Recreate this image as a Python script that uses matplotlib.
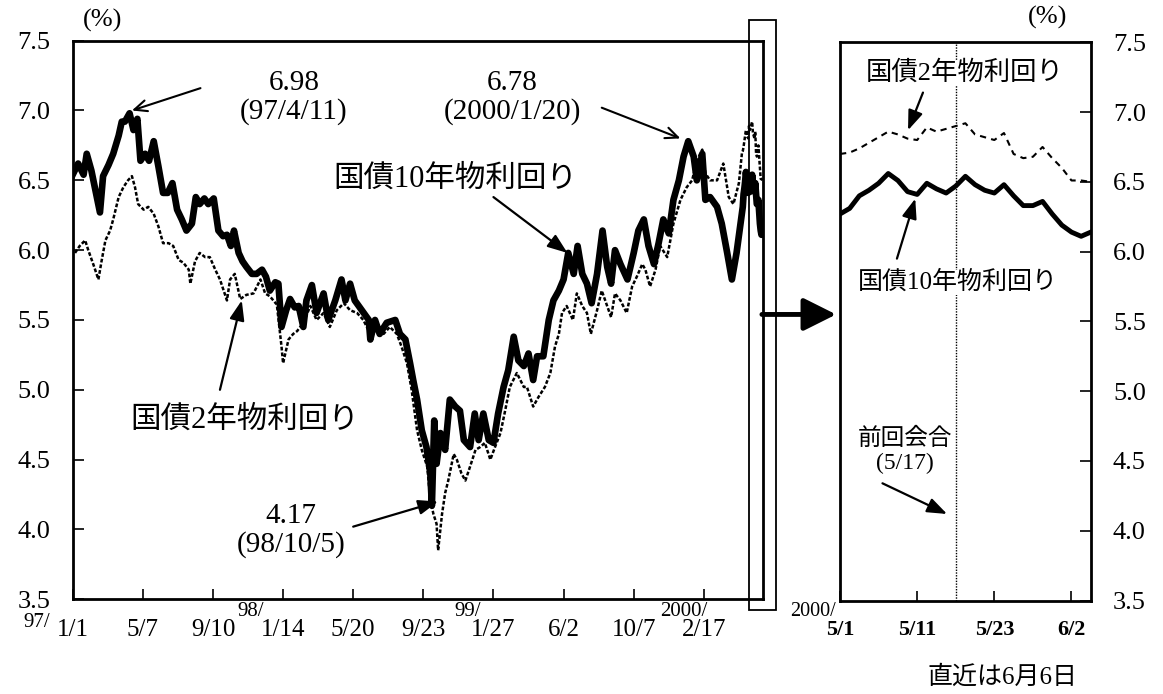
import numpy as np
import matplotlib.pyplot as plt
from matplotlib.patches import Rectangle

plt.rcParams['font.family'] = ['Liberation Serif', 'Noto Sans CJK JP']

# ---------------------------------------------------------
# Data (business-day index from 97/1/1, yield in %)
# ---------------------------------------------------------
t10 = [0, 7, 14, 18, 24, 31, 35, 39, 46, 52, 59, 63, 67, 73, 78, 83, 87, 93, 98, 104,
       110, 116, 122, 128, 134, 140, 146, 153, 158, 163, 169, 174, 181, 187, 193, 198, 203, 207, 213, 218,
       223, 230, 236, 243, 248, 253, 260, 264, 268, 274, 279, 285, 290, 296, 300, 307, 313, 322, 328, 337,
       345, 350, 356, 362, 371, 380, 382, 388, 394, 403, 414, 420, 427, 433, 437, 442, 448, 454, 459, 461,
       464, 467, 472, 478, 484, 491, 497, 502, 510, 516, 521, 527, 534, 540, 546, 553, 559, 566, 572, 579,
       585, 591, 596, 604, 611, 617, 624, 630, 636, 643, 648, 654, 660, 666, 673, 680, 686, 691, 696, 703,
       712, 720, 726, 733, 739, 746, 752, 758, 765, 771, 778, 784, 790, 797, 801, 808, 812, 818, 827, 833,
       840, 846, 852]
y10 = [6.54, 6.62, 6.54, 6.69, 6.57, 6.38, 6.27, 6.53, 6.61, 6.69, 6.82, 6.92, 6.92, 6.98, 6.86, 6.94, 6.64, 6.69, 6.64, 6.78,
       6.60, 6.41, 6.41, 6.48, 6.29, 6.22, 6.14, 6.19, 6.38, 6.33, 6.37, 6.33, 6.37, 6.14, 6.10, 6.11, 6.03, 6.14, 5.98, 5.92,
       5.88, 5.83, 5.83, 5.86, 5.81, 5.71, 5.77, 5.76, 5.45, 5.57, 5.65, 5.59, 5.60, 5.45, 5.64, 5.75, 5.55, 5.69, 5.50, 5.64,
       5.79, 5.64, 5.76, 5.64, 5.57, 5.50, 5.36, 5.50, 5.40, 5.48, 5.50, 5.40, 5.36, 5.19, 5.07, 4.93, 4.71, 4.59, 4.40, 4.17,
       4.78, 4.47, 4.69, 4.57, 4.93, 4.88, 4.85, 4.64, 4.59, 4.83, 4.64, 4.83, 4.64, 4.62, 4.83, 5.02, 5.14, 5.38, 5.21, 5.17,
       5.26, 5.07, 5.24, 5.24, 5.50, 5.64, 5.71, 5.79, 5.98, 5.83, 6.03, 5.83, 5.76, 5.62, 5.83, 6.14, 5.88, 5.76, 6.00, 5.90,
       5.79, 5.98, 6.14, 6.22, 6.03, 5.90, 6.05, 6.22, 6.12, 6.36, 6.50, 6.67, 6.78, 6.67, 6.50, 6.69, 6.36, 6.38, 6.31, 6.19,
       5.98, 5.79, 5.98]

t2 = [3, 9, 16, 20, 27, 33, 37, 42, 48, 52, 59, 65, 71, 76, 80, 84, 91, 97, 104, 110,
      116, 123, 129, 136, 142, 149, 151, 157, 163, 170, 176, 183, 189, 198, 202, 208, 215, 223, 232, 241,
      247, 253, 262, 268, 270, 277, 283, 288, 296, 305, 313, 322, 330, 339, 348, 356, 365, 373, 382, 390,
      399, 407, 416, 422, 429, 435, 442, 448, 455, 459, 463, 467, 469, 474, 478, 482, 489, 493, 499, 504,
      510, 517, 523, 529, 536, 542, 549, 555, 561, 570, 579, 583, 591, 598, 606, 613, 619, 624, 628, 634,
      642, 647, 654, 660, 665, 673, 679, 686, 691, 696, 703, 711, 718, 724, 731, 735, 741, 748, 754, 763,
      771, 780, 788, 795, 801, 808, 812, 818, 827, 835, 842, 848, 855]
y2 = [5.98, 6.03, 6.07, 6.00, 5.89, 5.79, 5.92, 6.07, 6.14, 6.22, 6.38, 6.45, 6.50, 6.53, 6.45, 6.33, 6.29, 6.31, 6.26, 6.17,
      6.05, 6.05, 6.03, 5.93, 5.91, 5.86, 5.76, 5.92, 5.98, 5.95, 5.95, 5.86, 5.79, 5.64, 5.79, 5.83, 5.65, 5.68, 5.69, 5.79,
      5.69, 5.67, 5.61, 5.31, 5.19, 5.36, 5.40, 5.42, 5.48, 5.60, 5.50, 5.55, 5.45, 5.57, 5.62, 5.57, 5.55, 5.50, 5.40, 5.43,
      5.40, 5.45, 5.40, 5.31, 5.19, 5.00, 4.71, 4.57, 4.45, 4.21, 4.11, 4.04, 3.85, 4.11, 4.26, 4.35, 4.54, 4.50, 4.40, 4.35,
      4.45, 4.57, 4.59, 4.62, 4.50, 4.59, 4.69, 4.85, 5.02, 5.12, 5.02, 5.02, 4.88, 4.95, 5.02, 5.12, 5.31, 5.40, 5.55, 5.60,
      5.50, 5.69, 5.60, 5.55, 5.40, 5.57, 5.71, 5.60, 5.52, 5.69, 5.64, 5.55, 5.74, 5.81, 5.90, 5.86, 5.74, 5.86, 6.03, 5.95,
      6.19, 6.36, 6.45, 6.50, 6.64, 6.72, 6.55, 6.50, 6.50, 6.62, 6.38, 6.33, 6.48]

# recent period 2000/5/1 - 6/6 (daily)
recent_start = 859
recent_10 = [6.27, 6.31, 6.40, 6.44, 6.49, 6.56, 6.51, 6.43, 6.41, 6.49, 6.45, 6.42, 6.47, 6.54,
             6.48, 6.44, 6.42, 6.48, 6.40, 6.33, 6.33, 6.36, 6.27, 6.19, 6.14, 6.11, 6.14]
recent_2 = [6.70, 6.71, 6.74, 6.78, 6.82, 6.86, 6.84, 6.81, 6.80, 6.89, 6.86, 6.88, 6.90, 6.92,
            6.84, 6.82, 6.80, 6.85, 6.70, 6.67, 6.68, 6.75, 6.67, 6.60, 6.51, 6.51, 6.50]
meeting_day = 12  # 5/17

main_ticks = [0, 90, 180, 270, 360, 450, 540, 630, 720, 810]
main_labels = ['1/1', '5/7', '9/10', '1/14', '5/20', '9/23', '1/27', '6/2', '10/7', '2/17']
year_marks = [(0, '97/'), (270, '98/'), (540, '99/'), (810, '2000/')]
recent_ticks = [0, 8, 16, 24]
recent_labels = ['5/1', '5/11', '5/23', '6/2']
yticks = [3.5, 4.0, 4.5, 5.0, 5.5, 6.0, 6.5, 7.0, 7.5]

# ---------------------------------------------------------
# Figure
# ---------------------------------------------------------
fig = plt.figure(figsize=(11.63, 6.94), dpi=100)
ax = fig.add_axes([0.0625, 0.1365, 0.5936, 0.8049])
ax2 = fig.add_axes([0.7223, 0.1347, 0.2156, 0.8043])

rx = recent_start + np.arange(len(recent_10))
ax.plot(list(t2) + list(rx), list(y2) + recent_2, color='black', lw=1.8,
        linestyle=(0, (1.5, 0.8)))
ax.plot(list(t10) + list(rx), list(y10) + recent_10, color='black', lw=4.8,
        solid_joinstyle='round')

ax.set_xlim(0, 886)
ax.set_ylim(3.5, 7.5)
ax.set_yticks(yticks)
ax.set_yticklabels([f'{v:.1f}' for v in yticks])
ax.set_xticks(main_ticks)
ax.set_xticklabels(main_labels)
ax.tick_params(axis='y', direction='in', length=8, width=1.2, pad=16, labelsize=19)
ax.tick_params(axis='x', direction='in', length=7, width=1.2, pad=14, labelsize=18)
for s in ax.spines.values():
    s.set_linewidth(2)

offsets = [(-16.5, -17), (-13.5, -8.5), (-9.4, -8.5), (2.2, -8.5)]
for (pos, txt), (dx, dy) in zip(year_marks, offsets):
    ax.annotate(txt, xy=(pos, 0), xycoords=ax.get_xaxis_transform(),
                xytext=(dx, dy), textcoords='offset points',
                ha='right', va='center', fontsize=15, annotation_clip=False)

# annotations on main panel
ax.text(284, 7.09, '6.98\n(97/4/11)', ha='center', va='center', fontsize=21, linespacing=1.1)
ax.annotate('', xy=(76, 7.0), xytext=(164, 7.16),
            arrowprops=dict(arrowstyle='->,head_length=0.9,head_width=0.4', lw=1.5, color='black',
                            shrinkA=0, shrinkB=0))
ax.text(564, 7.09, '6.78\n(2000/1/20)', ha='center', va='center', fontsize=21, linespacing=1.1)
ax.annotate('', xy=(780, 6.80), xytext=(679, 7.02),
            arrowprops=dict(arrowstyle='->,head_length=0.9,head_width=0.4', lw=1.5, color='black',
                            shrinkA=0, shrinkB=0))
ax.text(491, 6.51, '国債10年物利回り', ha='center', va='center', fontsize=22)
ax.annotate('', xy=(635, 5.98), xytext=(540, 6.38),
            arrowprops=dict(arrowstyle='-|>,head_length=1.2,head_width=0.45', lw=1.6, color='black',
                            shrinkA=0, shrinkB=0))
ax.text(221, 4.78, '国債2年物利回り', ha='center', va='center', fontsize=22)
ax.annotate('', xy=(217, 5.64), xytext=(189, 5.0),
            arrowprops=dict(arrowstyle='-|>,head_length=1.2,head_width=0.45', lw=1.6, color='black',
                            shrinkA=0, shrinkB=0))
ax.text(280, 3.99, '4.17\n(98/10/5)', ha='center', va='center', fontsize=21, linespacing=1.1)
ax.annotate('', xy=(469, 4.2), xytext=(360, 4.02),
            arrowprops=dict(arrowstyle='-|>,head_length=1.2,head_width=0.45', lw=1.6, color='black',
                            shrinkA=0, shrinkB=0))

# highlight box around the recent period
ax.add_patch(Rectangle((868, 3.423), 35, 4.225, fill=False, lw=1.3, ec='black', clip_on=False))

# ---------------------------------------------------------
# Right panel (recent period)
# ---------------------------------------------------------
ax2.plot(np.arange(len(recent_2)), recent_2, color='black', lw=1.5, linestyle=(0, (3, 2.5)))
ax2.plot(np.arange(len(recent_10)), recent_10, color='black', lw=3.5, solid_joinstyle='round')
ax2.axvline(meeting_day, color='black', lw=1.0, linestyle=(0, (1, 1)), zorder=1)

ax2.set_xlim(0, len(recent_10) - 1)
ax2.set_ylim(3.5, 7.5)
ax2.yaxis.tick_right()
ax2.set_yticks(yticks)
ax2.set_yticklabels([f'{v:.1f}' for v in yticks])
ax2.set_xticks(recent_ticks)
ax2.set_xticklabels(recent_labels, fontweight='bold')
ax2.tick_params(axis='y', direction='in', length=8, width=1.2, pad=16, labelsize=19,
                left=False, right=True)
ax2.tick_params(axis='x', direction='in', length=7, width=1.2, pad=14, labelsize=16)
for s in ax2.spines.values():
    s.set_linewidth(2)
ax2.annotate('2000/', xy=(0, 0), xycoords=ax2.get_xaxis_transform(),
             xytext=(-3, -8), textcoords='offset points', ha='right', va='center',
             fontsize=14.5, annotation_clip=False)

white = dict(fc='white', ec='none', pad=0.5)
ax2.text(12.96, 7.28, '国債2年物利回り', ha='center', va='center', fontsize=19, bbox=white, zorder=5)
ax2.annotate('', xy=(7.05, 6.87), xytext=(8.6, 7.14),
             arrowprops=dict(arrowstyle='-|>,head_length=1.2,head_width=0.45', lw=1.6, color='black',
                             shrinkA=0, shrinkB=0))
ax2.text(12.2, 5.78, '国債10年物利回り', ha='center', va='center', fontsize=18, bbox=white, zorder=5)
ax2.annotate('', xy=(7.8, 6.38), xytext=(5.9, 5.95),
             arrowprops=dict(arrowstyle='-|>,head_length=1.2,head_width=0.45', lw=1.6, color='black',
                             shrinkA=0, shrinkB=0))
ax2.text(6.74, 4.57, '前回会合\n(5/17)', ha='center', va='center', fontsize=17, linespacing=1.2)
ax2.annotate('', xy=(11.1, 4.12), xytext=(4.4, 4.34),
             arrowprops=dict(arrowstyle='-|>,head_length=1.2,head_width=0.45', lw=1.6, color='black',
                             shrinkA=0, shrinkB=0))

# big arrow from main panel to right panel
ax2.annotate('', xy=(-0.4, 5.55), xytext=(-8.1, 5.55), annotation_clip=False,
             arrowprops=dict(arrowstyle='-|>,head_length=2.0,head_width=1.0', lw=3.5, color='black',
                             shrinkA=0, shrinkB=0))

fig.text(0.0886, 0.971, '(%)', ha='center', va='center', fontsize=19)
fig.text(0.901, 0.9755, '(%)', ha='center', va='center', fontsize=19)
fig.text(0.8624, 0.0245, '直近は6月6日', ha='center', va='center', fontsize=18)

fig.savefig('out.png', dpi=100, facecolor='white')
